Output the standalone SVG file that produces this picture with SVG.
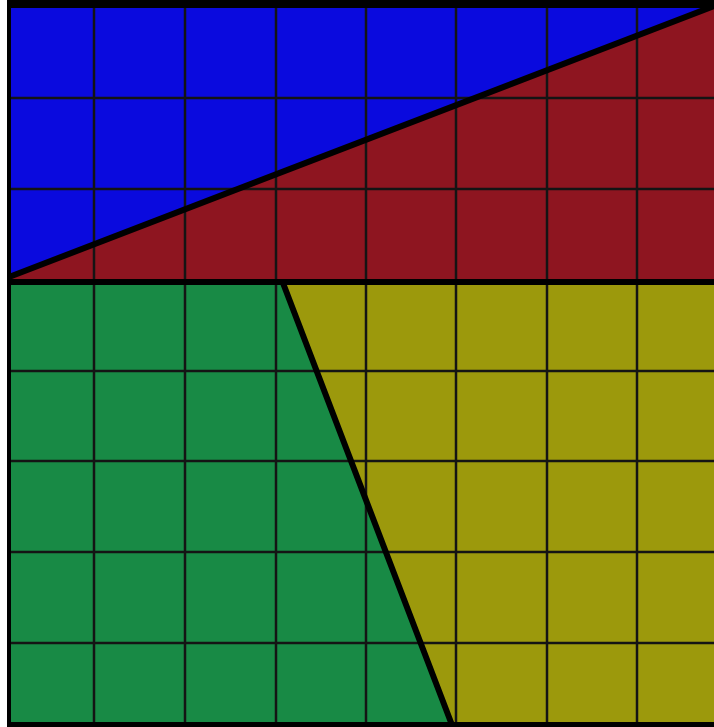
<svg xmlns="http://www.w3.org/2000/svg" width="714" height="727" viewBox="0 0 714 727">
<style>
.grid{stroke:#141414;stroke-width:2.5;fill:none}
.thick{stroke:#000;stroke-width:6;fill:none;stroke-linecap:round}
.border{stroke:#000;fill:none}
</style>
<rect x="0" y="0" width="714" height="727" fill="#ffffff"/>
<g id="regions">
<polygon id="blue" points="9,4 714,4 714,8 9,277" fill="#0a0ade"/>
<polygon id="red" points="9,277 714,8 714,282 9,282" fill="#8e1520"/>
<polygon id="green" points="9,282 283,282 452,725 9,725" fill="#188a45"/>
<polygon id="yellow" points="283,282 714,282 714,725 452,725" fill="#9c990c"/>
</g>
<g id="grid" class="grid">
<line x1="94" y1="4" x2="94" y2="725"/>
<line x1="185" y1="4" x2="185" y2="725"/>
<line x1="276" y1="4" x2="276" y2="725"/>
<line x1="366" y1="4" x2="366" y2="725"/>
<line x1="456" y1="4" x2="456" y2="725"/>
<line x1="547" y1="4" x2="547" y2="725"/>
<line x1="637" y1="4" x2="637" y2="725"/>
<line x1="9" y1="98" x2="714" y2="98"/>
<line x1="9" y1="189" x2="714" y2="189"/>
<line x1="9" y1="371" x2="714" y2="371"/>
<line x1="9" y1="461" x2="714" y2="461"/>
<line x1="9" y1="552" x2="714" y2="552"/>
<line x1="9" y1="643" x2="714" y2="643"/>
</g>
<g id="dividers" class="thick">
<line x1="9" y1="277" x2="714" y2="6"/>
<line x1="9" y1="282" x2="714" y2="282"/>
<line x1="283" y1="283" x2="452" y2="725"/>
</g>
<g id="frame" class="border">
<line x1="0" y1="4" x2="714" y2="4" stroke-width="8"/>
<line x1="9" y1="0" x2="9" y2="727" stroke-width="4"/>
<line x1="0" y1="724.5" x2="714" y2="724.5" stroke-width="5"/>
</g>
<rect x="0" y="0" width="7" height="727" fill="#ffffff"/>
</svg>
